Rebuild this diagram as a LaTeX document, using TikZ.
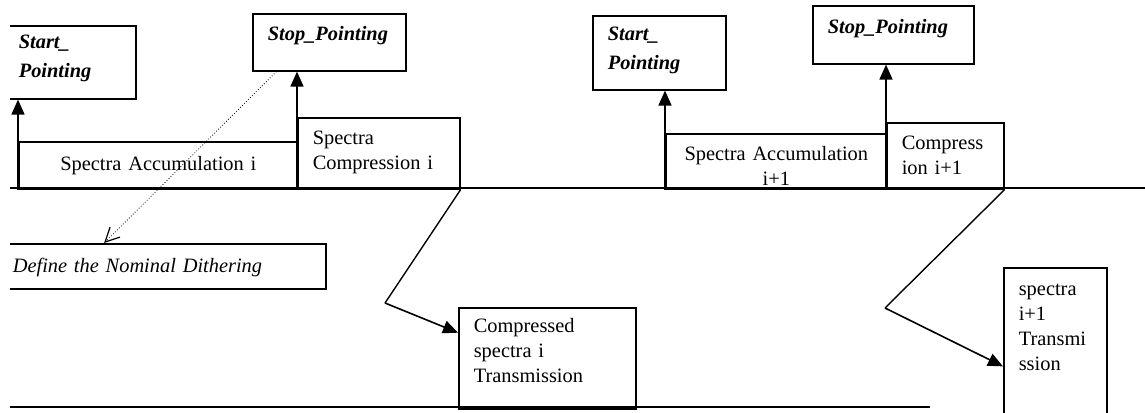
\documentclass[tikz,border=0pt]{standalone}
\usepackage{fontspec}
\setmainfont{Liberation Serif}
\usetikzlibrary{arrows.meta}
\hyphenpenalty=10000
\newcommand\corps{\fontsize{10.2pt}{12.5pt}\selectfont}
\newcommand\titre{\fontsize{10.2pt}{14.5pt}\selectfont\bfseries\itshape}
\tikzset{
  boite/.style={draw, line width=0.8pt, anchor=north west, inner xsep=7.5pt, inner ysep=0pt,
    align=left, text height=13.25pt, font=\corps},
  dim/.style 2 args={text width=#1, text depth=#2},
  fleche/.style={line width=0.8pt, -{Triangle[length=7.5pt,width=6.5pt]}},
  lien/.style={line width=0.7pt},
  renvoi/.style={densely dotted, line width=0.4pt, -{Straight Barb[length=7pt,width=7pt,line width=0.6pt]}},
}
\begin{document}
\begin{tikzpicture}[x=0.5pt, y=-0.5pt]
		\useasboundingbox (0,0) rectangle (1145,412);
		\clip (10,0) rectangle (1145,412);
		%lignes du temps
		\draw[line width=0.8pt] (10,188) -- (1145,188);
		\draw[line width=0.8pt] (10,407) -- (930,407);

		%cycle i
		\node (start 1) at(3, 25) [boite, dim={51pt}{25pt}, text height=11.5pt, font=\titre] {Start\_\\Pointing} ;
		\node (stop 1) at(252, 13) [boite, dim={61.5pt}{15.25pt}, font=\titre] {Stop\_Pointing} ;
		\node (acc 1) at(18, 141) [boite, dim={124.5pt}{9.25pt}, text height=14.25pt, align=center] {Spectra Accumulation i} ;
		\node (comp 1) at(297, 117) [boite, dim={66pt}{22.25pt}] {Spectra\\Compression i} ;
		\node (dith) at(-3, 243) [boite, dim={149pt}{8.25pt}, text height=14.25pt, font=\corps\itshape] {Define the Nominal Dithering} ;
		\node (tx 1) at(458, 307) [boite, dim={73.5pt}{38.25pt}, text height=12.25pt] {Compressed\\spectra i\\Transmission} ;

		%cycle i+1
		\node (start 2) at(592, 15) [boite, dim={51.5pt}{24.75pt}, text height=12.25pt, font=\titre] {Start\_\\Pointing} ;
		\node (stop 2) at(812, 5) [boite, dim={65.5pt}{15.25pt}, text height=13.75pt, font=\titre] {Stop\_Pointing} ;
		\node (acc 2) at(665, 133) [boite, dim={95.5pt}{14.25pt}, align=center] {Spectra Accumulation\\i+1} ;
		\node (comp 2) at(886, 122) [boite, dim={43.5pt}{19.75pt}] {Compress\\ion i+1} ;
		\node (tx 2) at(1003, 267) [boite, dim={36.5pt}{72.75pt}, text height=13.75pt] {spectra\\i+1\\Transmi\\ssion} ;

		\coordinate (coude 1) at(385, 303) ;
		\coordinate (coude 2) at(885, 308) ;

		%fleches
		\path
		(acc 1.south west) edge[fleche] (acc 1.south west |- start 1.south)
		(comp 1.south west) edge[fleche] (comp 1.south west |- stop 1.south)
		(acc 2.south west) edge[fleche] (acc 2.south west |- start 2.south)
		(comp 2.south west) edge[fleche] (comp 2.south west |- stop 2.south)
		(stop 1.209) edge[renvoi] (dith.158)
		(comp 1.south east) edge[lien] (coude 1)
		(coude 1) edge[lien, fleche] (tx 1.164)
		(comp 2.south east) edge[lien] (coude 2)
		(coude 2) edge[lien, fleche] (tx 2.193)
		;
\end{tikzpicture}
\end{document}
